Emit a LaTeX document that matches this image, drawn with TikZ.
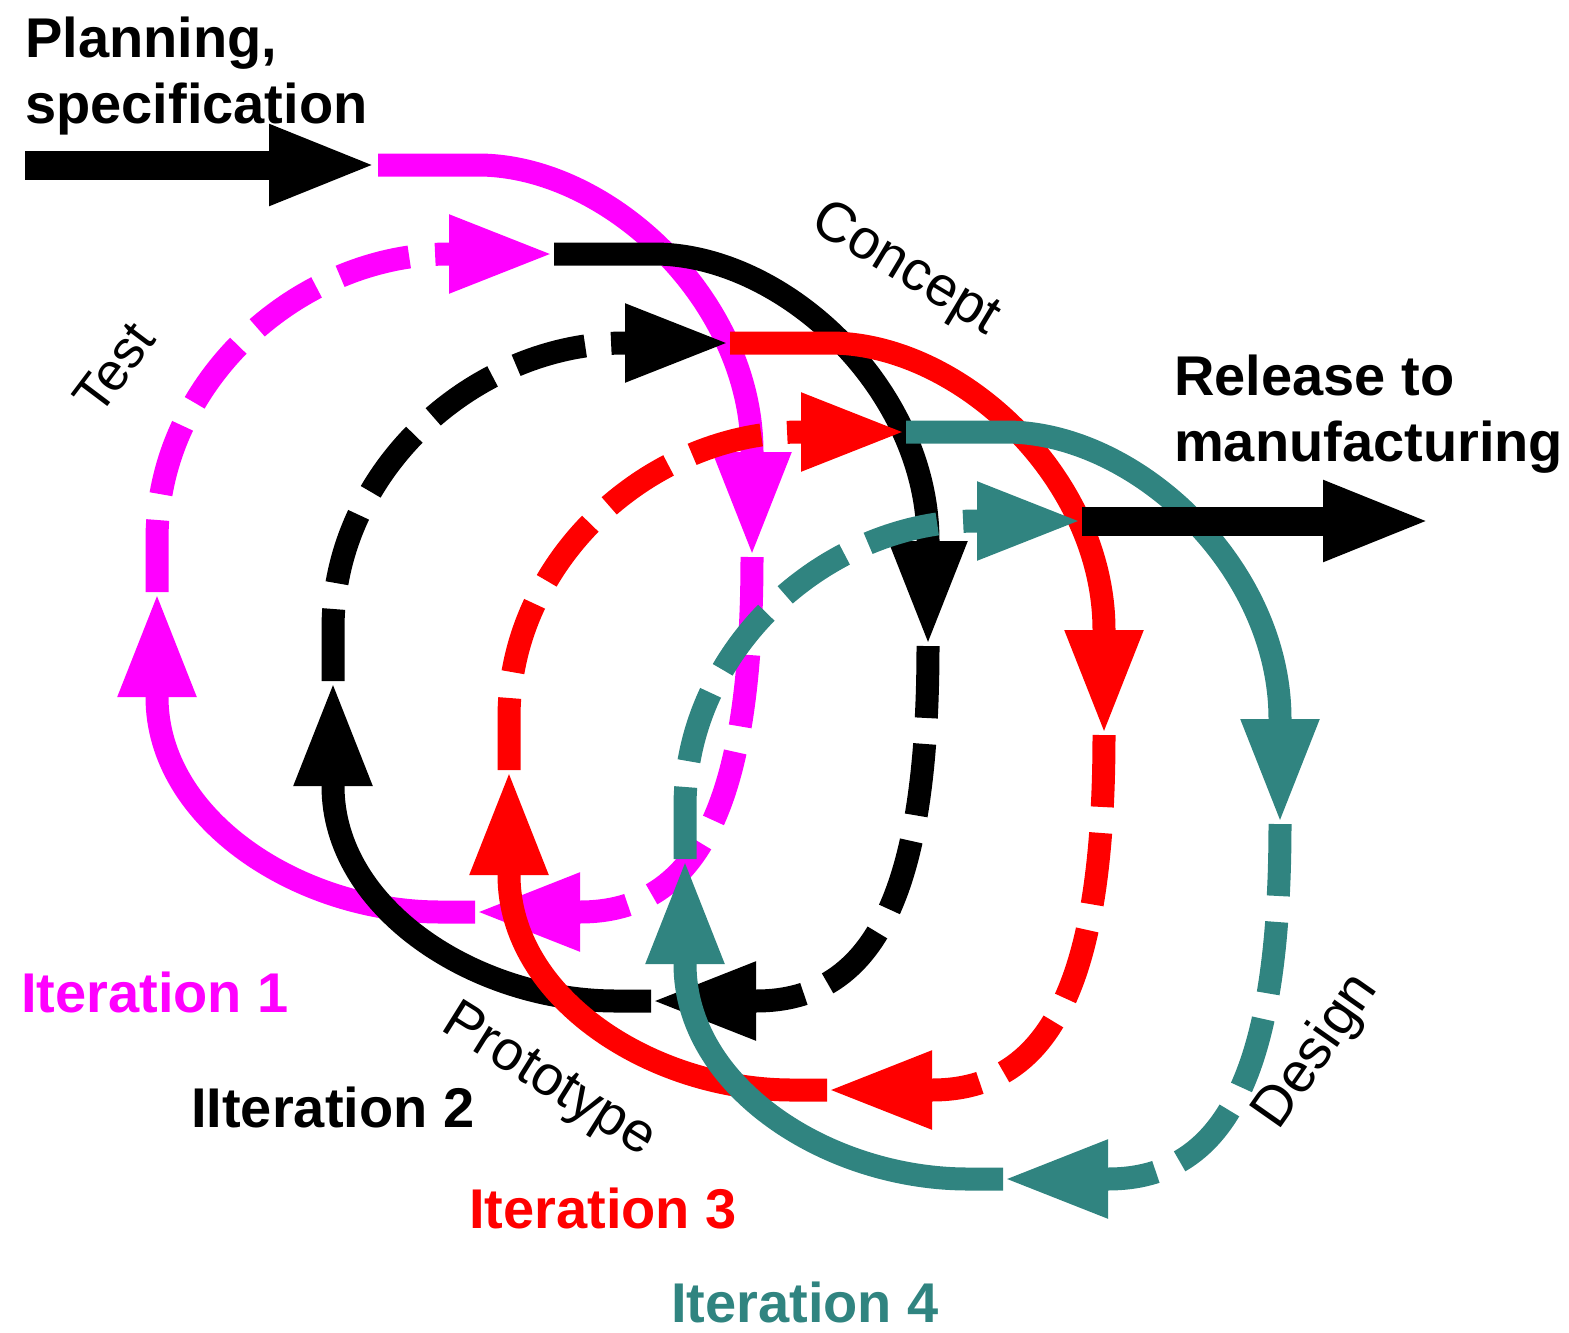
\documentclass[tikz,border=0pt]{standalone}
\usepackage{fontspec}
\setmainfont{Liberation Sans}
\usetikzlibrary{arrows.meta}
\definecolor{mag}{RGB}{255,0,255}
\definecolor{redthree}{RGB}{255,0,0}
\definecolor{tealfour}{RGB}{48,132,128}
\tikzset{
  lpline/.style={line width=23pt},
  solidseg/.style={lpline, -{Triangle[length=105pt,width=72pt]}},
  dashseg/.style={lpline, dash pattern=on 72pt off 26pt, -{Triangle[length=105pt,width=72pt]}},
  bigarrow/.style={line width=29pt, -{Triangle[length=109pt,width=73pt]}},
  boldlbl/.style={font=\fontsize{56}{66}\selectfont\bfseries, inner sep=0pt},
  twoline/.style={boldlbl, align=left},
  plainlbl/.style={font=\fontsize{56}{66}\selectfont, inner sep=0pt},
}
\begin{document}
\begin{tikzpicture}[x=1pt,y=-1pt]
\useasboundingbox (0,0) rectangle (1569,1333);
% in-arrow
\coordinate (in0) at (25,165);
\coordinate (s0) at (378,165);
\draw[bigarrow] (in0) -- (s0);
% four spiral loops
\foreach \i/\c in {0/mag,1/black,2/redthree,3/tealfour}{
  \begin{scope}[shift={(\i*176,\i*89)}]
    \coordinate (s\i) at (378,165);
    \coordinate (h\i) at (478,165);
    \coordinate (rb\i) at (752,452);
    \coordinate (rt\i) at (752,557);
    \coordinate (bb\i) at (580,912);
    \coordinate (bt\i) at (475,912);
    \coordinate (bs\i) at (440,912);
    \coordinate (lb\i) at (157,697);
    \coordinate (lt\i) at (157,592);
    \coordinate (ls\i) at (157,540);
    \coordinate (tb\i) at (449,254);
    \coordinate (tt\i) at (554,254);
    \draw[solidseg,\c] (s\i) -- (h\i) .. controls (608,165) and (752,300) .. (rb\i) -- (rt\i);
    \draw[dashseg,\c] (rt\i) .. controls (752,800) and (700,912) .. (bb\i) -- (bt\i);
    \draw[solidseg,\c] (bt\i) -- (bs\i) .. controls (300,912) and (157,820) .. (lb\i) -- (lt\i);
    \draw[dashseg,\c] (lt\i) -- (ls\i) .. controls (157,380) and (300,254) .. (tb\i) -- (tt\i);
  \end{scope}
}
% out-arrow
\coordinate (out) at (1432,521);
\draw[bigarrow] (tt3) -- (out);
% labels
\node[twoline, anchor=north west] (plan) at (25,17) {Planning,\\specification};
\node[twoline, anchor=north west] (rel) at (1174,355) {Release to\\manufacturing};
\node[plainlbl, font=\fontsize{53}{60}\selectfont, rotate=53] (test) at (114,368) {Test};
\node[plainlbl, rotate=-31] (concept) at (905,270) {Concept};
\node[plainlbl, rotate=55] (design) at (1317,1052) {Design};
\node[plainlbl, rotate=-32] (proto) at (548,1082) {Prototype};
\node[boldlbl, mag, anchor=base west] (it1) at (21,1012) {Iteration 1};
\node[boldlbl, black, anchor=base west] (it2) at (191,1127) {IIteration 2};
\node[boldlbl, redthree, anchor=base west] (it3) at (469,1228) {Iteration 3};
\node[boldlbl, tealfour, anchor=base west] (it4) at (671,1322) {Iteration 4};
\end{tikzpicture}
\end{document}
